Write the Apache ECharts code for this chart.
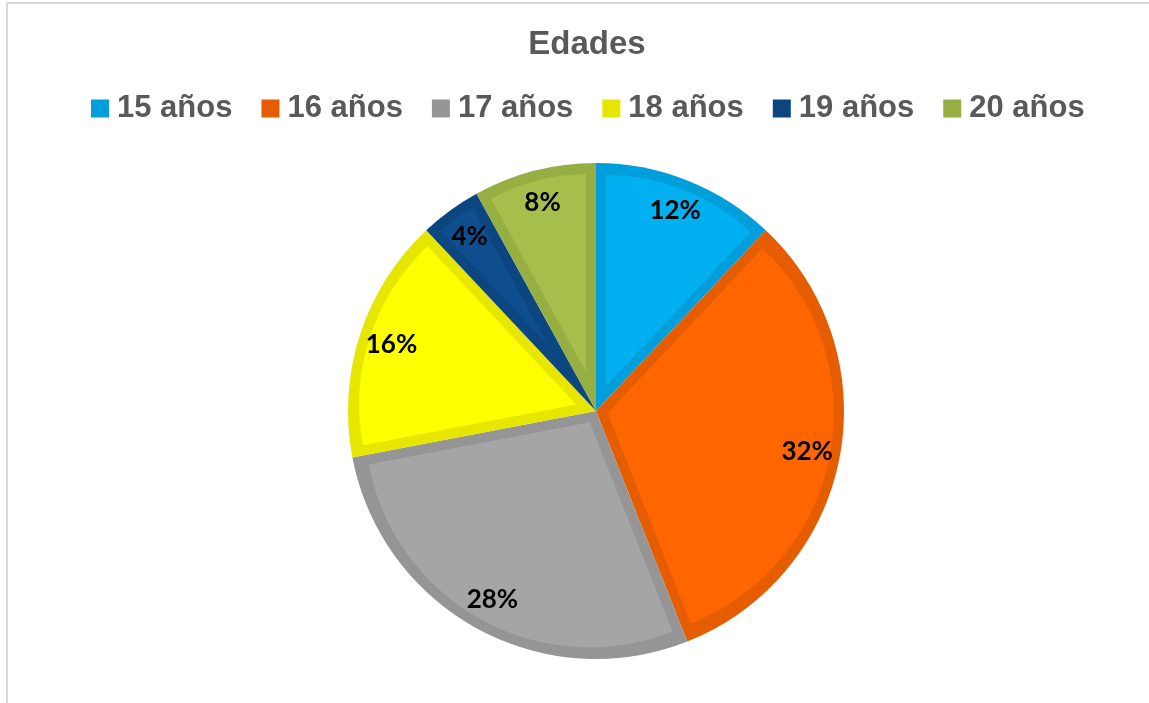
<!DOCTYPE html>
<html>
<head>
<meta charset="utf-8">
<script src="https://cdn.jsdelivr.net/npm/echarts@6/dist/echarts.min.js"></script>
<style>
  html, body { margin: 0; padding: 0; background: #fff; }
  #frame { position: absolute; left: 6px; top: 2px; width: 1200px; height: 800px;
           border-left: 2px solid #d9d9d9; border-top: 2px solid #d9d9d9; }
  #chart { position: absolute; left: 0; top: 0; width: 1149px; height: 703px; }
</style>
</head>
<body>
<div id="frame"></div>
<div id="chart"></div>
<script>
// datos
const categories = ['15 años', '16 años', '17 años', '18 años', '19 años', '20 años'];
const values = [12, 32, 28, 16, 4, 8];
const fillColors = ['#00B0F0', '#FF6600', '#A5A5A5', '#FFFF00', '#0E4E8E', '#A6BE4B'];
const edgeColors = ['#009FDB', '#E65C00', '#959595', '#E6E600', '#0B4680', '#96AE42'];

const cx = 596, cy = 411, R = 248, edge = 10;
const total = values.reduce((a, b) => a + b, 0);

const chart = echarts.init(document.getElementById('chart'));

// pie de base con los colores del borde
const series = [{
  type: 'pie',
  center: [cx, cy],
  radius: [0, R],
  startAngle: 90,
  silent: true,
  label: { show: false },
  labelLine: { show: false },
  data: categories.map((name, i) => ({ name, value: values[i], itemStyle: { color: edgeColors[i] } }))
}];

// cada sector claro va metido hacia dentro el ancho del borde
let acc = 0;
values.forEach((v, i) => {
  const half = Math.PI * v / total;
  const mid = Math.PI / 2 - 2 * Math.PI * acc / total - half;
  const d = edge / Math.sin(half);
  acc += v;
  series.push({
    type: 'pie',
    center: [cx + d * Math.cos(mid), cy - d * Math.sin(mid)],
    radius: [0, R - edge - d],
    startAngle: 90,
    silent: true,
    label: { show: false },
    labelLine: { show: false },
    data: categories.map((name, j) => ({
      name, value: values[j],
      itemStyle: { color: j === i ? fillColors[j] : 'rgba(0,0,0,0)' }
    }))
  });
});

// etiquetas de porcentaje
series.push({
  type: 'pie',
  center: [cx, cy],
  radius: [176, R],
  startAngle: 90,
  silent: true,
  itemStyle: { color: 'rgba(0,0,0,0)' },
  label: {
    show: true,
    position: 'inside',
    formatter: '{c}%',
    color: '#000',
    fontFamily: 'Lato',
    fontWeight: 'bold',
    fontSize: 26
  },
  labelLine: { show: false },
  data: categories.map((name, i) => ({ name, value: values[i] }))
});

chart.setOption({
  animation: false,
  title: {
    text: 'Edades',
    left: 582,
    textAlign: 'center',
    top: 23,
    textStyle: { color: '#595959', fontFamily: 'Liberation Sans', fontWeight: 'bold', fontSize: 33 }
  },
  legend: {
    data: categories,
    left: 86,
    top: 88,
    itemWidth: 18,
    itemHeight: 18,
    itemGap: 29,
    icon: 'rect',
    selectedMode: false,
    textStyle: { color: '#595959', fontFamily: 'Liberation Sans', fontWeight: 'bold', fontSize: 31, padding: [0, 0, 0, 3] }
  },
  series: series
});
</script>
</body>
</html>
